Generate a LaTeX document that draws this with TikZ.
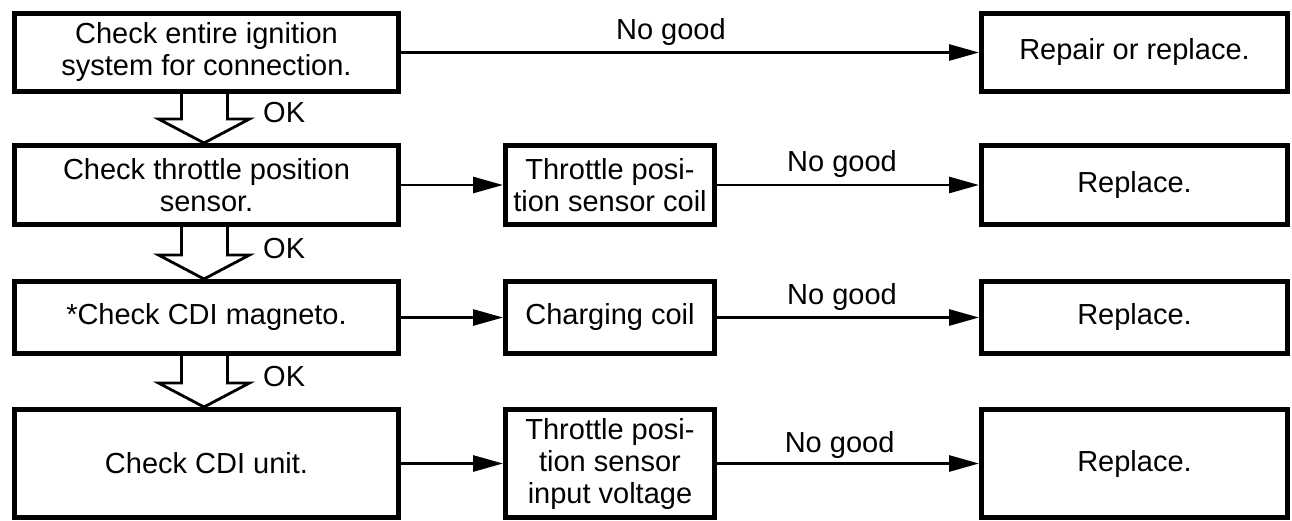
\documentclass[tikz,border=0pt]{standalone}
\usepackage{fontspec}
\setmainfont{Liberation Sans}
\usetikzlibrary{arrows.meta,calc}
\begin{document}
\begin{tikzpicture}[x=1pt,y=-1pt,
  box/.style={draw,line width=5pt,inner sep=0pt,align=center,
    font=\fontsize{29}{32}\selectfont},
  conn/.style={line width=2.8pt,-{Triangle[length=30pt,width=16pt]}},
  hollow/.style={line width=2.8pt,line join=miter},
  lbl/.style={inner sep=0pt,anchor=base,yshift=13pt,font=\fontsize{29}{32}\selectfont},
  oklbl/.style={inner sep=0pt,anchor=west,font=\fontsize{29}{32}\selectfont}]
\useasboundingbox (0,0) rectangle (1292,521);
% left column
\node[box,minimum width=384pt,minimum height=78pt] (L1) at (206.5,52.5) {Check entire ignition\\system for connection.};
\node[box,minimum width=384pt,minimum height=79pt] (L2) at (206.5,185) {Check throttle position\\sensor.};
\node[box,minimum width=384pt,minimum height=72pt] (L3) at (206.5,317.5) {*Check CDI magneto.};
\node[box,minimum width=384pt,minimum height=108pt] (L4) at (206.5,463.5) {Check CDI unit.};
% middle column
\node[box,minimum width=209pt,minimum height=79pt] (M1) at (610,185) {Throttle posi-\\tion sensor coil};
\node[box,minimum width=209pt,minimum height=72pt] (M2) at (610,317.5) {Charging coil};
\node[box,minimum width=209pt,minimum height=108pt] (M3) at (610,463.5) {Throttle posi-\\tion sensor\\input voltage};
% right column
\node[box,minimum width=306pt,minimum height=78pt] (R1) at (1134.5,52.5) {Repair or replace.};
\node[box,minimum width=306pt,minimum height=79pt] (R2) at (1134.5,185) {Replace.};
\node[box,minimum width=306pt,minimum height=72pt] (R3) at (1134.5,317.5) {Replace.};
\node[box,minimum width=306pt,minimum height=108pt] (R4) at (1134.5,463.5) {Replace.};
% horizontal connectors
\draw[conn] (L1.east) -- node[lbl,pos=0.467] {No good} (R1.west);
\draw[conn] (L2.east) -- (M1.west);
\draw[conn] (M1.east) -- node[lbl,pos=0.477] {No good} (R2.west);
\draw[conn] (L3.east) -- (M2.west);
\draw[conn] (M2.east) -- node[lbl,pos=0.477] {No good} (R3.west);
\draw[conn] (L4.east) -- (M3.west);
\draw[conn] (M3.east) -- node[lbl,pos=0.468,yshift=-2pt] {No good} (R4.west);
% hollow OK arrows
\foreach \a/\b in {L1/L2,L2/L3,L3/L4}{
  \draw[hollow] ([xshift=-25pt]\a.south) |- ([xshift=-48pt,yshift=24pt]\b.north)
    -- ([xshift=-2.5pt]\b.north) -- ([xshift=43pt,yshift=24pt]\b.north)
    -| ([xshift=21pt]\a.south);
  \node[oklbl] at ([xshift=56.5pt,yshift=30pt]\b.north) {OK};
}
\end{tikzpicture}
\end{document}
